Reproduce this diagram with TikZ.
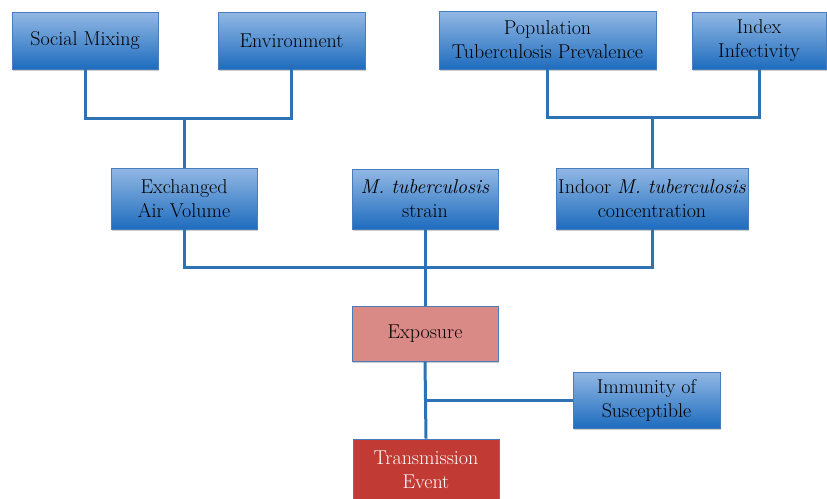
\documentclass[tikz,border=0pt]{standalone}
\usepackage{fontspec}
\usepackage{tikz}
\usetikzlibrary{shadows}

\definecolor{boxtop}{RGB}{146,184,228}
\definecolor{boxbot}{RGB}{30,108,190}
\definecolor{boxline}{RGB}{72,124,188}
\definecolor{linkcol}{RGB}{46,114,182}
\definecolor{expfill}{RGB}{217,138,135}
\definecolor{transfill}{RGB}{193,58,52}

\begin{document}
\begin{tikzpicture}[x=1pt,y=-1pt,
  factor/.style={draw=boxline,line width=0.8pt,top color=boxtop,bottom color=boxbot,
    align=center,inner sep=2pt,font=\fontsize{20}{24}\selectfont,
    drop shadow={shadow xshift=1pt,shadow yshift=-1.8pt,opacity=0.4}},
  link/.style={draw=linkcol,line width=3pt}]
\useasboundingbox (0,0) rectangle (827,498);

% Nodes
\node[factor,minimum width=146pt,minimum height=57pt] (social) at (85,40.5) {Social Mixing};
\node[factor,minimum width=147pt,minimum height=57pt] (env) at (291.5,40.5) {Environment};
\node[factor,minimum width=217pt,minimum height=58pt] (prev) at (547.5,40) {Population\\Tuberculosis Prevalence};
\node[factor,minimum width=134pt,minimum height=57pt] (index) at (759,40.5) {Index\\Infectivity};
\node[factor,minimum width=146pt,minimum height=61pt] (air) at (184,198.5) {Exchanged\\Air Volume};
\node[factor,minimum width=146pt,minimum height=60pt] (strain) at (425,199) {\textit{M. tuberculosis}\\strain};
\node[factor,minimum width=192pt,minimum height=61pt] (indoor) at (652,198.5) {Indoor \textit{M. tuberculosis}\\concentration};
\node[factor,minimum width=147pt,minimum height=56pt] (immunity) at (646.5,400) {Immunity of\\Susceptible};
\node[factor,top color=expfill,bottom color=expfill,minimum width=146pt,minimum height=55pt] (exposure) at (425,333.5) {Exposure};
\node[factor,top color=transfill,bottom color=transfill,text=white,minimum width=146pt,minimum height=62pt] (trans) at (426,470) {Transmission\\Event};

% Junctions
\coordinate (airjoin) at (air.north |- 0,118);
\coordinate (indoorjoin) at (indoor.north |- 0,117);
\coordinate (expjoin) at (strain.south |- 0,267);

% Edges
\draw[link] (social.south) |- (airjoin) -| (env.south);
\draw[link] (airjoin) -- (air.north);
\draw[link] (prev.south) |- (indoorjoin) -| (index.south);
\draw[link] (indoorjoin) -- (indoor.north);
\draw[link] (air.south) |- (expjoin) -| (indoor.south);
\draw[link] (strain.south) -- (exposure.north);
\draw[link] (exposure.south) -- (trans.north);
\draw[link] (immunity.west) -- (exposure.south |- immunity.west);
\end{tikzpicture}
\end{document}
